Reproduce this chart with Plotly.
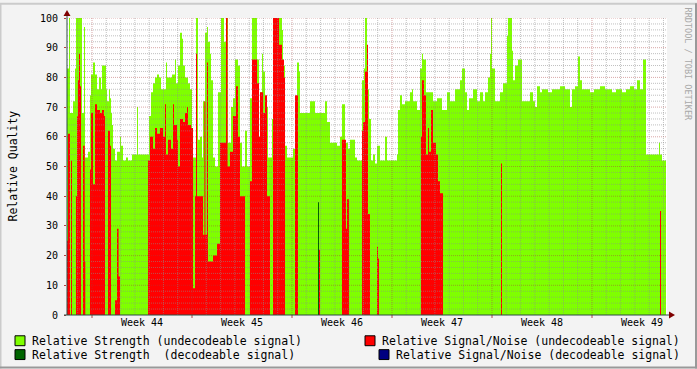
import plotly.graph_objects as go

# ---------------- data (time in days from the left edge of the graph) ----------------
t_strength_undec = [0.00,0.14,0.21,0.42,0.56,0.63,1.05,1.19,1.26,1.47,1.61,1.68,1.82,1.96,2.10,2.24,2.38,2.45,
    2.73,2.80,2.94,3.01,3.08,3.15,3.22,3.36,3.50,3.71,3.78,3.92,4.13,4.27,4.55,4.90,4.97,5.74,5.88,6.02,6.16,
    6.30,6.44,6.58,6.93,7.00,7.35,7.56,7.63,7.77,7.91,8.05,8.12,8.26,8.47,8.61,8.75,9.03,9.17,9.31,9.45,9.52,
    9.66,9.80,9.87,10.01,10.08,10.22,10.36,10.57,10.78,10.99,11.13,11.27,11.48,11.62,11.76,11.97,12.11,12.25,
    12.46,12.60,12.81,12.95,13.30,13.44,13.51,13.65,13.72,13.86,14.07,14.35,14.49,15.05,15.12,15.26,15.40,
    15.82,16.10,16.24,16.31,17.01,17.36,18.06,18.20,18.41,18.90,19.11,19.25,19.46,19.67,19.81,20.16,20.30,
    20.65,20.79,20.86,21.00,21.14,21.28,21.42,21.56,21.70,21.91,22.26,22.40,23.10,23.17,23.31,23.45,23.66,
    24.01,24.15,24.22,24.50,24.71,24.85,24.92,25.13,25.62,25.90,26.25,26.60,26.81,27.16,27.51,27.65,27.86,
    28.00,28.14,28.42,28.70,28.91,29.12,29.26,29.47,29.61,29.68,29.75,29.96,30.31,30.52,30.80,30.87,31.15,
    31.22,31.36,31.57,31.85,32.41,32.62,32.76,32.90,33.11,33.25,33.67,33.95,34.51,34.86,35.21,35.35,35.56,
    35.77,35.91,36.05,36.61,36.89,37.31,37.66,38.15,38.43,38.85,39.13,39.41,39.69,39.90,40.11,40.32,40.53,
    41.44,41.51,41.65,41.93]
strength_undec = [83,100,68,72,83,100,68,97,53,55,74,81,85,81,76,80,76,84,
    76,72,76,73,68,64,56,52,55,60,57,52,53,52,54,70,54,67,75,78,80,
    81,80,76,85,80,81,86,78,84,95,93,84,80,78,76,53,100,59,60,53,72,
    95,97,92,88,79,53,50,75,100,92,100,58,70,73,86,84,58,50,
    62,50,73,100,86,52,75,88,82,70,53,66,100,96,84,57,53,
    56,85,82,68,72,68,72,65,58,57,60,71,58,56,59,53,52,
    79,83,100,76,66,52,54,51,57,52,60,52,54,69,74,71,72,
    75,76,72,69,83,88,86,75,72,73,69,75,72,76,79,83,75,
    69,73,76,72,75,72,75,80,88,100,83,72,75,78,94,100,89,
    79,84,86,72,75,72,70,77,75,76,75,76,77,76,70,76,77,
    87,79,76,75,76,77,76,75,76,75,76,77,76,79,76,86,54,
    58,54,52,0]

t_snr_undec = [0.00,0.07,0.21,0.28,0.35,0.63,0.70,0.77,0.84,0.91,0.98,1.12,1.24,1.28,1.61,1.68,1.82,1.96,
    2.10,2.31,2.45,2.59,2.66,2.87,3.01,3.08,3.36,3.50,3.61,3.71,5.67,5.81,6.02,6.16,6.30,6.51,6.72,6.86,
    6.93,7.07,7.28,7.42,7.49,7.70,7.77,7.91,8.12,8.26,8.40,8.47,8.68,8.82,8.96,9.03,9.10,9.52,9.62,9.69,
    9.80,9.87,10.22,10.50,10.71,11.13,11.24,11.41,11.62,11.83,11.97,12.11,12.46,12.81,12.95,13.30,13.44,
    13.51,13.72,13.86,14.00,14.21,14.42,14.84,15.05,15.19,15.26,15.96,16.17,17.64,17.71,19.25,19.53,19.60,
    19.74,20.65,20.72,20.86,21.00,21.07,21.21,21.70,21.77,21.84,24.78,24.85,24.99,25.13,25.27,25.34,25.48,
    25.62,25.83,25.97,26.11,26.32,30.38,30.45,41.51,41.58,41.93]
snr_undec = [25,61,0,52,0,40,67,79,88,77,0,57,18,0,49,68,44,71,
    69,68,69,67,0,62,57,0,5,29,13,0,52,60,56,63,61,63,60,71,
    54,59,56,71,64,59,50,66,65,68,70,64,63,9,40,88,40,27,72,27,
    85,18,20,24,58,100,50,55,67,77,60,40,0,45,86,78,60,
    75,68,74,40,0,100,91,86,80,0,74,0,22,0,59,29,39,
    0,62,65,82,91,34,0,23,19,0,60,79,74,54,63,55,69,
    58,54,45,41,0,51,0,35,0,0]

t_strength_dec = [0.00,17.57,17.64,41.93]
strength_dec = [0,38,0,0]

t_snr_dec = [0.00,41.93]
snr_dec = [0,0]

week_days = [5.25,12.25,19.25,26.25,33.25,40.25]
week_labels = ["Week 44","Week 45","Week 46","Week 47","Week 48","Week 49"]
y_ticks = list(range(0,101,10))

series_names = ["Relative Strength (undecodeable signal)",
                "Relative Signal/Noise (undecodeable signal)",
                "Relative Strength\u00a0\u00a0(decodeable signal)",
                "Relative Signal/Noise (decodeable signal)"]
series_colors = ["#7FFF00", "#FF0000", "#006400", "#000080"]

# ---------------- figure ----------------
W, H = 697, 369
L, R, T, B = 67, 30, 15, 54
PW, PH = W - L - R, H - T - B
XMAX = 42.0
MONO = "DejaVu Sans Mono"

def px_x(px):
    return (px - L) / PW

def px_y(py):
    return (T + PH - py) / PH

fig = go.Figure()
for tx, ty, nm, col in [(t_strength_undec, strength_undec, series_names[0], series_colors[0]),
                        (t_snr_undec, snr_undec, series_names[1], series_colors[1]),
                        (t_strength_dec, strength_dec, series_names[2], series_colors[2]),
                        (t_snr_dec, snr_dec, series_names[3], series_colors[3])]:
    fig.add_trace(go.Scatter(x=tx, y=ty, name=nm, mode="lines",
                             line=dict(width=0, shape="hv", color=col),
                             fill="tozeroy", fillcolor=col, hoverinfo="skip",
                             showlegend=False))

shapes = []
minor_col = "rgba(140,140,140,0.55)"
major_col = "rgba(170,60,60,0.45)"
# horizontal grid
for v in range(2, 101, 2):
    shapes.append(dict(type="line", xref="x", yref="y", x0=0, x1=XMAX, y0=v, y1=v, layer="above",
                       line=dict(color=major_col if v % 10 == 0 else minor_col, width=1, dash="1px,1px")))
# vertical grid (day minor, week major)
d = 0.75
while d < XMAX:
    major = abs(((d - 1.75) / 7) - round((d - 1.75) / 7)) < 1e-6
    shapes.append(dict(type="line", xref="x", yref="y", x0=d, x1=d, y0=0, y1=100, layer="above",
                       line=dict(color=major_col if major else minor_col, width=1, dash="1px,1px")))
    if major:
        shapes.append(dict(type="line", xref="x", yref="paper", x0=d, x1=d, y0=0, y1=px_y(318),
                           layer="above", line=dict(color="#B04040", width=1)))
    d += 1.0

# axes lines + arrows
axis_col = "#2C4D43"
shapes.append(dict(type="line", xref="paper", yref="paper", x0=0, x1=0, y0=0, y1=px_y(11),
                   layer="above", line=dict(color=axis_col, width=1)))
shapes.append(dict(type="line", xref="paper", yref="paper", x0=px_x(64), x1=px_x(670), y0=0, y1=0,
                   layer="above", line=dict(color=axis_col, width=1)))
shapes.append(dict(type="path", xref="paper", yref="paper",
                   path=f"M {px_x(67)} {px_y(7)} L {px_x(63.5)} {px_y(13)} L {px_x(70.5)} {px_y(13)} Z",
                   fillcolor="#7F0000", line=dict(width=0), layer="above"))
shapes.append(dict(type="path", xref="paper", yref="paper",
                   path=f"M {px_x(675)} {px_y(315)} L {px_x(669)} {px_y(311.5)} L {px_x(669)} {px_y(318.5)} Z",
                   fillcolor="#7F0000", line=dict(width=0), layer="above"))

# outer 3D frame
shapes += [
    dict(type="line", xref="paper", yref="paper", x0=px_x(0), x1=px_x(W), y0=px_y(0.5), y1=px_y(0.5),
         line=dict(color="#CBCBCB", width=2)),
    dict(type="line", xref="paper", yref="paper", x0=px_x(0.5), x1=px_x(0.5), y0=px_y(0), y1=px_y(H),
         line=dict(color="#CBCBCB", width=2)),
    dict(type="line", xref="paper", yref="paper", x0=px_x(0), x1=px_x(W), y0=px_y(H - 1), y1=px_y(H - 1),
         line=dict(color="#999999", width=2)),
    dict(type="line", xref="paper", yref="paper", x0=px_x(W - 1), x1=px_x(W - 1), y0=px_y(0), y1=px_y(H),
         line=dict(color="#999999", width=2)),
]

# legend
annotations = []
legend_items = [(15, 30, 341, 0), (365, 380, 341, 1), (15, 30, 355, 2), (379, 394, 355, 3)]
for sx, tx, cy, i in legend_items:
    shapes.append(dict(type="rect", xref="paper", yref="paper",
                       x0=px_x(sx), x1=px_x(sx + 10), y0=px_y(cy + 5), y1=px_y(cy - 5),
                       fillcolor=series_colors[i], line=dict(color="black", width=1)))
    annotations.append(dict(xref="paper", yref="paper", x=px_x(tx), y=px_y(cy), text=series_names[i],
                            showarrow=False, xanchor="left", yanchor="middle",
                            font=dict(family=MONO, size=11.5, color="black")))

annotations.append(dict(xref="paper", yref="paper", x=px_x(12), y=px_y(165), text="Relative Quality",
                        textangle=-90, showarrow=False, xanchor="center", yanchor="middle",
                        font=dict(family=MONO, size=11.5, color="black")))
annotations.append(dict(xref="paper", yref="paper", x=px_x(688), y=px_y(61), text="RRDTOOL / TOBI OETIKER",
                        textangle=90, showarrow=False, xanchor="center", yanchor="middle",
                        font=dict(family=MONO, size=8.5, color="#A8A8A8")))

fig.update_layout(
    width=W, height=H, margin=dict(l=L, r=R, t=T, b=B, pad=0),
    paper_bgcolor="#F3F3F3", plot_bgcolor="#FFFFFF",
    shapes=shapes, annotations=annotations, showlegend=False,
    xaxis=dict(range=[0, XMAX], showgrid=False, zeroline=False, showline=False,
               tickvals=week_days, ticktext=week_labels, ticks="",
               tickfont=dict(family=MONO, size=10, color="black"), fixedrange=True),
    yaxis=dict(range=[0, 100], showgrid=False, zeroline=False, showline=False,
               tickvals=y_ticks, ticks="outside", ticklen=2, tickcolor="#B04040",
               ticklabelstandoff=4,
               tickfont=dict(family=MONO, size=10, color="black"), fixedrange=True),
)

fig.write_html("out.html")
